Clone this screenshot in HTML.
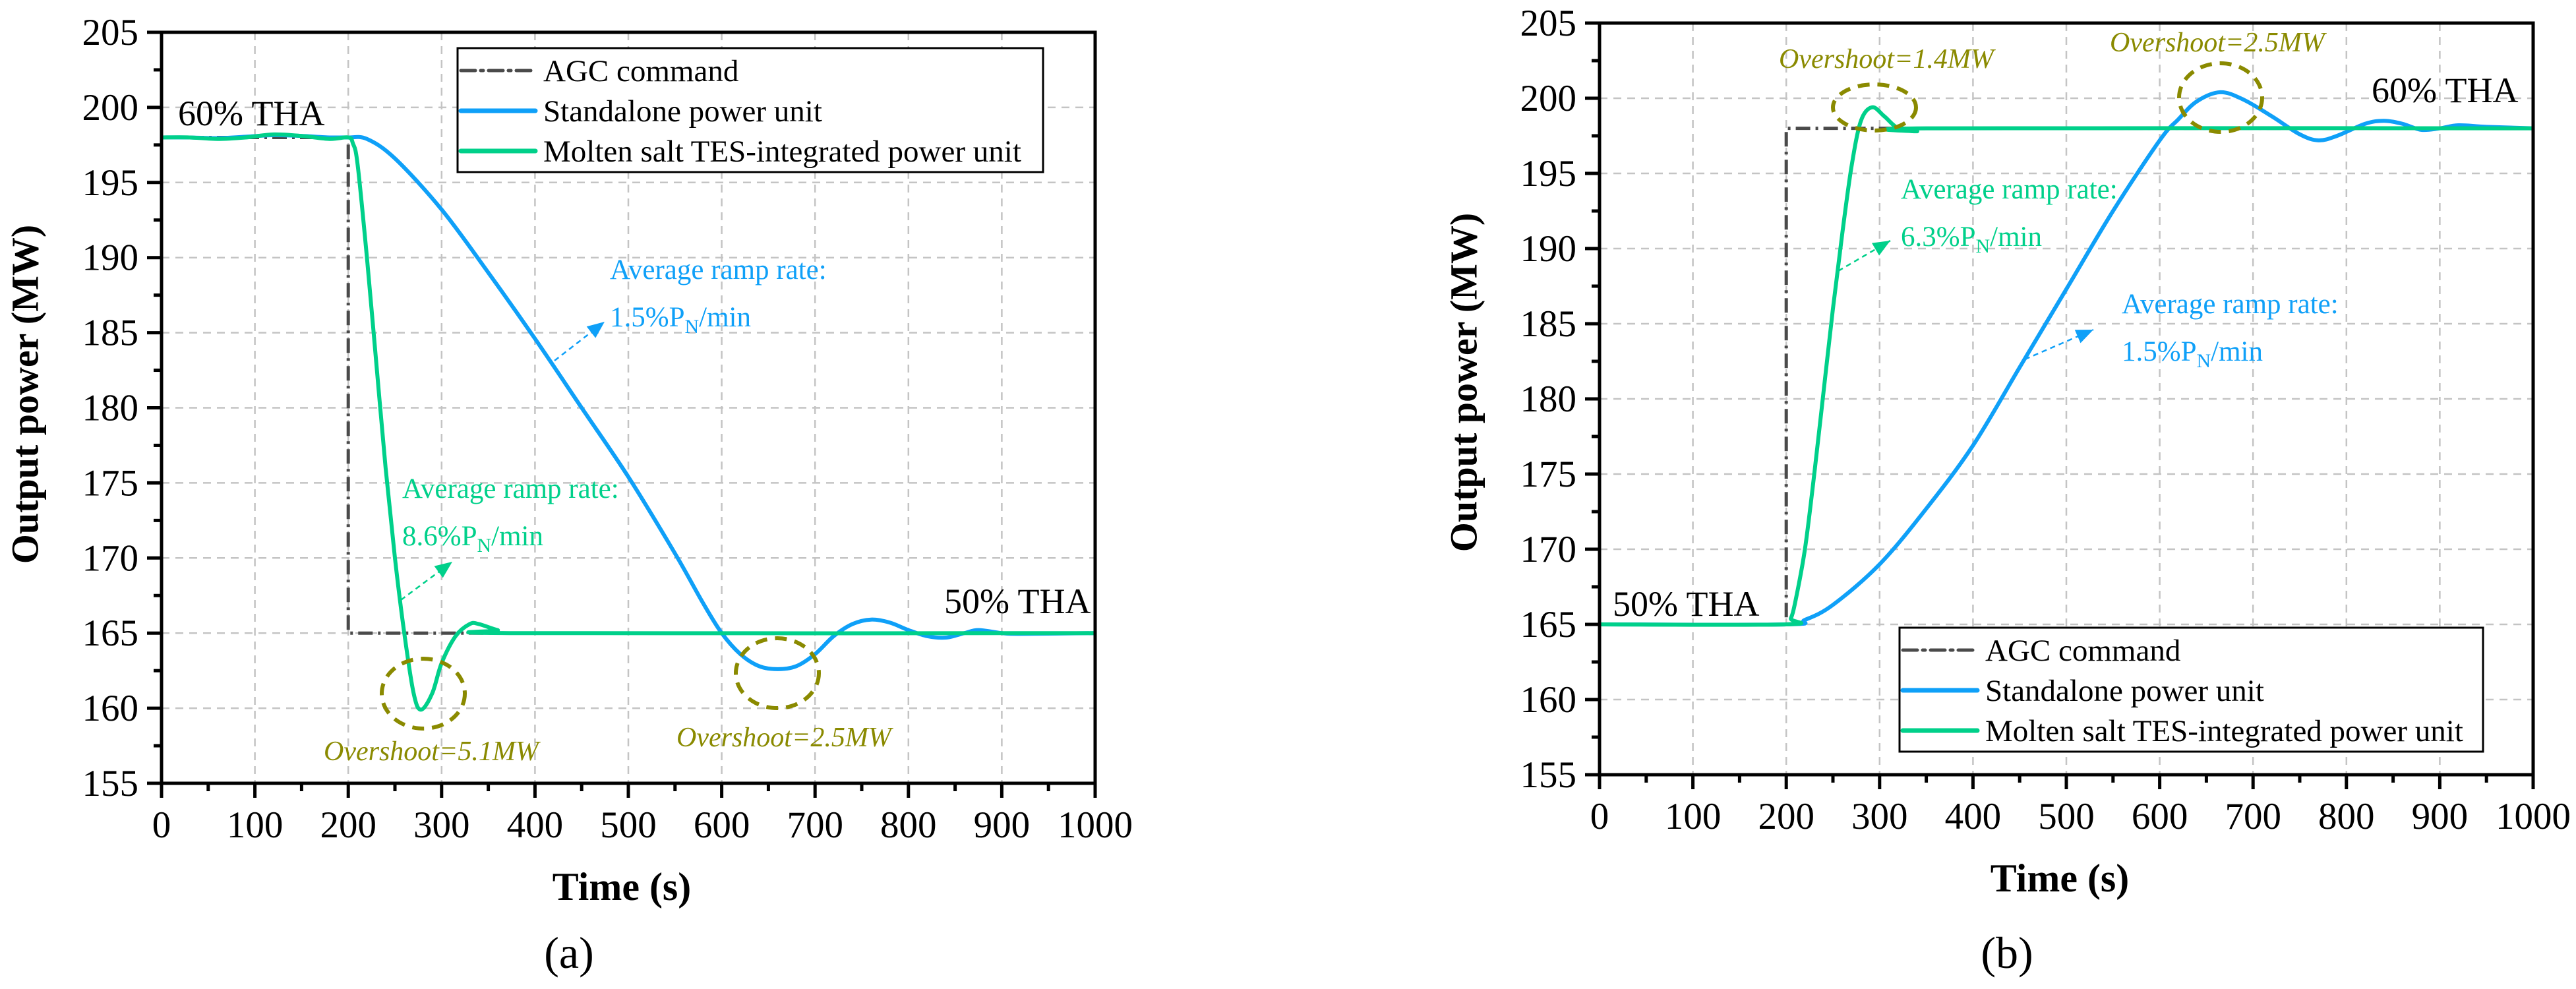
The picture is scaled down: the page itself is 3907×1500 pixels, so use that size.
<!DOCTYPE html>
<html><head><meta charset="utf-8">
<style>
html,body{margin:0;padding:0;background:#fff;}
svg{display:block;font-family:"Liberation Serif",serif;}
svg text{font-family:"Liberation Serif",serif;}
</style></head>
<body>
<svg id="fig" width="3907" height="1500" viewBox="0 0 3907 1500" xmlns="http://www.w3.org/2000/svg" font-family="Liberation Serif, serif"></svg>
<script>
// ---- data ----
const xTicks = [0,100,200,300,400,500,600,700,800,900,1000];
const yTicks = [155,160,165,170,175,180,185,190,195,200,205];
// panel (a)
const aAgcT = [0,200,200,1000];
const aAgcP = [198,198,165,165];
const aStdT = [0,30,60,90,120,150,180,200,220,250,300,350,400,450,500,550,580,600,620,640,660,680,700,720,740,760,780,800,820,840,860,875,900,920,1000];
const aStdP = [198,198,197.95,198.05,198.15,198.1,198,198,197.9,196.6,193.2,189,184.6,180,175.4,170.3,167,165,163.6,162.8,162.6,162.8,163.6,164.8,165.6,165.9,165.7,165.2,164.8,164.7,165,165.2,165,164.95,165];
const aTesT = [0,30,60,90,120,150,180,200,205,210,220,230,240,250,260,270,278,290,300,315,330,340,360,380,1000];
const aTesP = [198,198,197.9,198,198.2,198.1,197.9,198,197.6,196.2,190,183,176,170,165,161,159.9,161,163,164.8,165.6,165.6,165.2,165,165];
// panel (b)
const bAgcT = [0,200,200,1000];
const bAgcP = [165,165,198,198];
const bStdT = [0,200,220,250,300,350,400,450,500,550,600,620,640,665,690,720,750,770,790,820,840,860,880,900,920,950,1000];
const bStdP = [165,165,165.3,166.3,169,172.7,176.9,182.1,187.3,192.5,197.2,198.6,199.8,200.4,199.9,198.8,197.6,197.2,197.5,198.3,198.5,198.3,197.9,198,198.2,198.1,198];
const bTesT = [0,200,205,210,220,230,240,250,260,270,280,292,305,320,340,360,1000];
const bTesP = [165,165,165.4,166.6,170,175,180.5,186,191,195.5,198.5,199.4,198.8,198,197.8,198,198];

const BLUE="#0FA0F8", GREEN="#00D08A", OLIVE="#8A8A00", AGC="#4a4a4a";
const NS="http://www.w3.org/2000/svg";
const svg=document.getElementById('fig');
function el(tag,attrs,parent){const e=document.createElementNS(NS,tag);for(const k in attrs)e.setAttribute(k,attrs[k]);if(tag==='text')e.setAttribute('font-family','Liberation Serif, serif');(parent||svg).appendChild(e);return e;}

function catmull(pts){
  let d=`M${pts[0][0]},${pts[0][1]}`;
  for(let i=0;i<pts.length-1;i++){
    const p0=pts[Math.max(0,i-1)],p1=pts[i],p2=pts[i+1],p3=pts[Math.min(pts.length-1,i+2)];
    const c1=[p1[0]+(p2[0]-p0[0])/6,p1[1]+(p2[1]-p0[1])/6];
    const c2=[p2[0]-(p3[0]-p1[0])/6,p2[1]-(p3[1]-p1[1])/6];
    d+=` C${c1[0]},${c1[1]} ${c2[0]},${c2[1]} ${p2[0]},${p2[1]}`;
  }
  return d;
}

function panel(cfg){
  const g=el('g',{});
  
  
  const {L,R,T,B}=cfg;
  const sx=v=>L+(v-0)/(1000-0)*(R-L);
  const sy=v=>B-(v-155)/(205-155)*(B-T);
  const grid=el('g',{stroke:'#c4c4c4','stroke-width':2.5,'stroke-dasharray':'12,9',fill:'none'},g);
  
  
  xTicks.slice(1,-1).forEach(t=>el('line',{x1:sx(t),x2:sx(t),y1:T,y2:B},grid));
  yTicks.slice(1,-1).forEach(t=>el('line',{x1:L,x2:R,y1:sy(t),y2:sy(t)},grid));
  const mk=(T_,P_,attrs,name,smooth)=>{
    const pts=T_.map((t,i)=>[sx(t),sy(P_[i])]);
    const d=smooth?catmull(pts):'M'+pts.map(p=>p.join(',')).join(' L');
    const p=el('path',Object.assign({d,fill:'none'},attrs),g);
    
    
  };
  mk(cfg.agcT,cfg.agcP,{stroke:AGC,'stroke-width':5,'stroke-dasharray':'22,8,4,8'},'agc-command-line',false);
  mk(cfg.stdT,cfg.stdP,{stroke:BLUE,'stroke-width':6,'stroke-linejoin':'round'},'standalone-unit-line',true);
  mk(cfg.tesT,cfg.tesP,{stroke:GREEN,'stroke-width':6,'stroke-linejoin':'round'},'tes-unit-line',true);
  const fr=el('rect',{x:L,y:T,width:R-L,height:B-T,fill:'none',stroke:'#000','stroke-width':5},g);
  
  
  const tk=el('g',{stroke:'#000','stroke-width':5},g);
  
  
  xTicks.forEach((t,i)=>{
    el('line',{x1:sx(t),x2:sx(t),y1:B,y2:B+22},tk);
    if(i<xTicks.length-1) el('line',{x1:sx(t+50),x2:sx(t+50),y1:B,y2:B+12},tk);
    const tx=el('text',{x:sx(t),y:B+82,'font-size':57,'text-anchor':'middle',fill:'#000'},g);
    tx.textContent=t;
    
    
  });
  yTicks.forEach((t,i)=>{
    el('line',{x1:L-22,x2:L,y1:sy(t),y2:sy(t)},tk);
    if(i<yTicks.length-1) el('line',{x1:L-12,x2:L,y1:sy(t+2.5),y2:sy(t+2.5)},tk);
    const ty=el('text',{x:L-35,y:sy(t)+19,'font-size':57,'text-anchor':'end',fill:'#000'},g);
    ty.textContent=t;
    
    
  });
  const text=(x,y,s,attrs,name)=>{const t=el('text',Object.assign({x,y},attrs),g);t.innerHTML=s;return t;};
  text(cfg.yl[0],cfg.yl[1],'Output power (MW)',{'font-size':58,'font-weight':'bold','text-anchor':'middle',transform:`rotate(-90 ${cfg.yl[0]} ${cfg.yl[1]})`,'dominant-baseline':'middle'},'y-axis-title');
  text((L+R)/2-10,B+177,'Time (s)',{'font-size':60,'font-weight':'bold','text-anchor':'middle'},'x-axis-title');
  text((L+R)/2-90,1468,cfg.letter,{'font-size':68,'text-anchor':'middle'},'panel-label');
  const lg=el('g',{},g);
  
  
  const [lx,ly,lw,lh]=cfg.legend;
  el('rect',{x:lx,y:ly,width:lw,height:lh,fill:'#fff',stroke:'#000','stroke-width':3},lg);
  const rows=[['AGC command',{stroke:AGC,'stroke-dasharray':'22,8,4,8','stroke-width':5}],['Standalone power unit',{stroke:BLUE,'stroke-width':7}],['Molten salt TES-integrated power unit',{stroke:GREEN,'stroke-width':7}]];
  rows.forEach((r,i)=>{
    const cy=ly+34+i*61;
    el('line',Object.assign({x1:lx+5,x2:lx+118,y1:cy,y2:cy,'stroke-linecap':'round'},r[1]),lg);
    const t=el('text',{x:lx+130,y:cy+16,'font-size':47,fill:'#000'},lg);
    t.textContent=r[0];
    
    
  });
  cfg.thas.forEach(a=>text(a[0],a[1],a[2],{'font-size':54,fill:'#000'},'level-label'));
  cfg.ellipses.forEach(e=>{const c=el('ellipse',{cx:e[0],cy:e[1],rx:e[2],ry:e[3],fill:'none',stroke:OLIVE,'stroke-width':6,'stroke-dasharray':'18,12'},g);});
  cfg.overs.forEach(o=>text(o[0],o[1],o[2],{'font-size':42,'font-style':'italic',fill:OLIVE},'overshoot-label'));
  cfg.ramps.forEach(r=>{
    const col=r.c;
    text(r.x,r.y,'Average ramp rate:',{'font-size':43,fill:col},'ramp-rate-label');
    text(r.x,r.y+72,`${r.v}%P<tspan font-size="30" dy="10">N</tspan><tspan dy="-10">/min</tspan>`,{'font-size':43,fill:col},'ramp-rate-value');
    const [x1,y1,x2,y2]=r.a;
    const ln=el('line',{x1,y1,x2,y2,stroke:col,'stroke-width':2.5,'stroke-dasharray':'8,6'},g);
    
    
    const ang=Math.atan2(y2-y1,x2-x1),h=26,w=11;
    const bx=x2-h*Math.cos(ang),by=y2-h*Math.sin(ang);
    el('polygon',{points:`${x2},${y2} ${bx-w*Math.sin(ang)},${by+w*Math.cos(ang)} ${bx+w*Math.sin(ang)},${by-w*Math.cos(ang)}`,fill:col},g);
  });
}

panel({name:'panel-a',letter:'(a)',L:245,R:1661,T:49,B:1188,
  agcT:aAgcT,agcP:aAgcP,stdT:aStdT,stdP:aStdP,tesT:aTesT,tesP:aTesP,
  yl:[44,598],legend:[694,73,888,188],
  thas:[[270,190,'60% THA'],[1432,930,'50% THA']],
  ellipses:[[642,1052,63,53],[1179,1021,63,53]],
  overs:[[491,1153,'Overshoot=5.1MW'],[1026,1132,'Overshoot=2.5MW']],
  ramps:[{x:925,y:423,v:'1.5',c:BLUE,a:[841,547,917,488]},{x:610,y:755,v:'8.6',c:GREEN,a:[608,910,686,852]}]
});
panel({name:'panel-b',letter:'(b)',L:2426,R:3842,T:35,B:1175,
  agcT:bAgcT,agcP:bAgcP,stdT:bStdT,stdP:bStdP,tesT:bTesT,tesP:bTesP,
  yl:[2226,580],legend:[2881,952,885,188],
  thas:[[2446,934,'50% THA'],[3597,155,'60% THA']],
  ellipses:[[2843,163,63,35],[3368,148,63,52]],
  overs:[[2698,103,'Overshoot=1.4MW'],[3200,78,'Overshoot=2.5MW']],
  ramps:[{x:2883,y:301,v:'6.3',c:GREEN,a:[2788,411,2867,365]},{x:3218,y:475,v:'1.5',c:BLUE,a:[3071,545,3175,500]}]
});
</script>
</body></html>
